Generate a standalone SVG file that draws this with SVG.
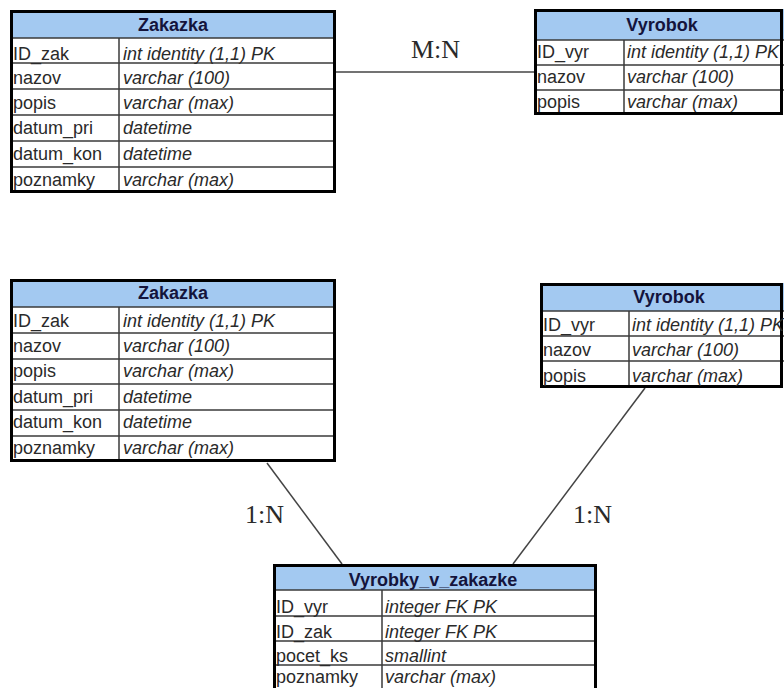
<svg xmlns="http://www.w3.org/2000/svg" width="784" height="688" viewBox="0 0 784 688">
<style>
.hdr{fill:#a3c9f1}
.box{fill:none;stroke:#000;stroke-width:3}
.ln{stroke:#3a3a3a;stroke-width:1.5}
.ht{font-family:"Liberation Sans",Arial,sans-serif;font-size:18px;font-weight:bold;fill:#14143c;text-anchor:middle}
.f{font-family:"Liberation Sans",Arial,sans-serif;font-size:18px;fill:#2a2a2a}
.t{font-family:"Liberation Sans",Arial,sans-serif;font-size:18px;font-style:italic;fill:#2a2a2a}
.rel{font-family:"Liberation Serif","Times New Roman",serif;font-size:26px;fill:#2a2a2a}
.con{stroke:#444;stroke-width:1.5;fill:none}
</style>
<rect width="784" height="688" fill="#fff"/>
<g id="connectors">
<line class="con" x1="336" y1="72" x2="534" y2="72"/>
<line class="con" x1="267" y1="463" x2="342" y2="564"/>
<line class="con" x1="645" y1="388" x2="513" y2="564"/>
<text class="rel" x="411" y="58">M:N</text>
<text class="rel" x="245" y="523">1:N</text>
<text class="rel" x="573" y="523">1:N</text>
</g>
<g id="zakazka1">
<rect class="hdr" x="10" y="10" width="326" height="28"/>
<line class="ln" x1="10" y1="38" x2="336" y2="38"/>
<line class="ln" x1="10" y1="63" x2="336" y2="63"/>
<line class="ln" x1="10" y1="89" x2="336" y2="89"/>
<line class="ln" x1="10" y1="115" x2="336" y2="115"/>
<line class="ln" x1="10" y1="141" x2="336" y2="141"/>
<line class="ln" x1="10" y1="167" x2="336" y2="167"/>
<line class="ln" x1="119" y1="38" x2="119" y2="193"/>
<rect class="box" x="11.5" y="11.5" width="323" height="180"/>
<text class="ht" x="173" y="31">Zakazka</text>
<text class="f" x="13" y="60">ID_zak</text><text class="t" x="123" y="60">int identity (1,1) PK</text>
<text class="f" x="13" y="84">nazov</text><text class="t" x="123" y="84">varchar (100)</text>
<text class="f" x="13" y="109">popis</text><text class="t" x="123" y="109">varchar (max)</text>
<text class="f" x="13" y="134">datum_pri</text><text class="t" x="123" y="134">datetime</text>
<text class="f" x="13" y="160">datum_kon</text><text class="t" x="123" y="160">datetime</text>
<text class="f" x="13" y="186">poznamky</text><text class="t" x="123" y="186">varchar (max)</text>
</g>
<g id="vyrobok1">
<rect class="hdr" x="534" y="9" width="250" height="31"/>
<line class="ln" x1="534" y1="40" x2="784" y2="40"/>
<line class="ln" x1="534" y1="65" x2="784" y2="65"/>
<line class="ln" x1="534" y1="90" x2="784" y2="90"/>
<line class="ln" x1="624" y1="40" x2="624" y2="115"/>
<rect class="box" x="535.5" y="10.5" width="246" height="103"/>
<text class="ht" x="662" y="31">Vyrobok</text>
<text class="f" x="537" y="58">ID_vyr</text><text class="t" x="627" y="58">int identity (1,1) PK</text>
<text class="f" x="537" y="83">nazov</text><text class="t" x="627" y="83">varchar (100)</text>
<text class="f" x="537" y="108">popis</text><text class="t" x="627" y="108">varchar (max)</text>
</g>
<g id="zakazka2">
<rect class="hdr" x="10" y="279" width="326" height="28"/>
<line class="ln" x1="10" y1="307" x2="336" y2="307"/>
<line class="ln" x1="10" y1="333" x2="336" y2="333"/>
<line class="ln" x1="10" y1="359" x2="336" y2="359"/>
<line class="ln" x1="10" y1="384" x2="336" y2="384"/>
<line class="ln" x1="10" y1="410" x2="336" y2="410"/>
<line class="ln" x1="10" y1="436" x2="336" y2="436"/>
<line class="ln" x1="119" y1="307" x2="119" y2="462"/>
<rect class="box" x="11.5" y="280.5" width="323" height="180"/>
<text class="ht" x="173" y="299">Zakazka</text>
<text class="f" x="13" y="327">ID_zak</text><text class="t" x="123" y="327">int identity (1,1) PK</text>
<text class="f" x="13" y="352">nazov</text><text class="t" x="123" y="352">varchar (100)</text>
<text class="f" x="13" y="377">popis</text><text class="t" x="123" y="377">varchar (max)</text>
<text class="f" x="13" y="403">datum_pri</text><text class="t" x="123" y="403">datetime</text>
<text class="f" x="13" y="428">datum_kon</text><text class="t" x="123" y="428">datetime</text>
<text class="f" x="13" y="454">poznamky</text><text class="t" x="123" y="454">varchar (max)</text>
</g>
<g id="vyrobok2">
<rect class="hdr" x="540" y="283" width="244" height="28"/>
<line class="ln" x1="540" y1="311" x2="784" y2="311"/>
<line class="ln" x1="540" y1="336" x2="784" y2="336"/>
<line class="ln" x1="540" y1="361" x2="784" y2="361"/>
<line class="ln" x1="629" y1="311" x2="629" y2="388"/>
<rect class="box" x="541.5" y="284.5" width="240" height="102"/>
<text class="ht" x="669" y="303">Vyrobok</text>
<text class="f" x="543" y="331">ID_vyr</text><text class="t" x="632" y="331">int identity (1,1) PK</text>
<text class="f" x="543" y="356">nazov</text><text class="t" x="632" y="356">varchar (100)</text>
<text class="f" x="543" y="382">popis</text><text class="t" x="632" y="382">varchar (max)</text>
</g>
<g id="vyrobky_v_zakazke">
<rect class="hdr" x="273" y="564" width="324" height="26"/>
<line class="ln" x1="273" y1="590" x2="597" y2="590"/>
<line class="ln" x1="273" y1="616" x2="597" y2="616"/>
<line class="ln" x1="273" y1="641" x2="597" y2="641"/>
<line class="ln" x1="273" y1="665" x2="597" y2="665"/>
<line class="ln" x1="382" y1="590" x2="382" y2="692"/>
<rect class="box" x="274.5" y="565.5" width="321" height="126"/>
<text class="ht" x="433" y="586">Vyrobky_v_zakazke</text>
<text class="f" x="276" y="613">ID_vyr</text><text class="t" x="385" y="613">integer FK PK</text>
<text class="f" x="276" y="638">ID_zak</text><text class="t" x="385" y="638">integer FK PK</text>
<text class="f" x="276" y="662">pocet_ks</text><text class="t" x="385" y="662">smallint</text>
<text class="f" x="276" y="683">poznamky</text><text class="t" x="385" y="683">varchar (max)</text>
</g>
</svg>
